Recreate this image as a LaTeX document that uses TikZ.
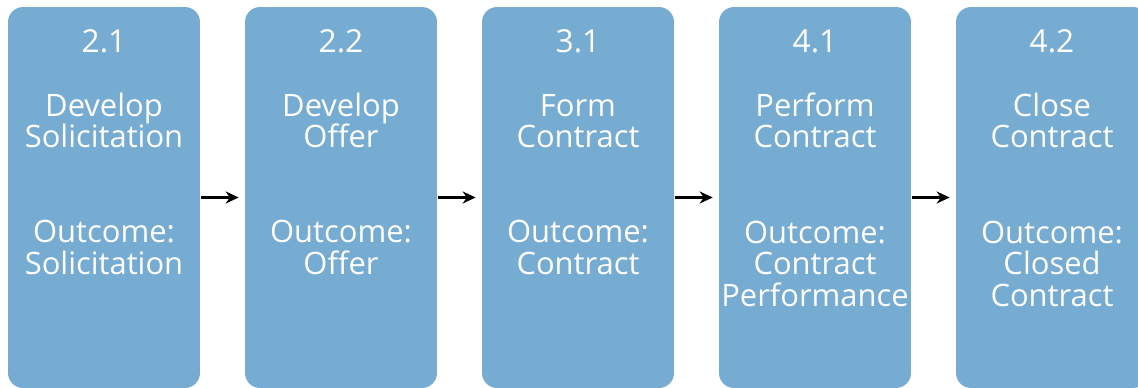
\documentclass[tikz,border=0pt]{standalone}
\usepackage{fontspec}
\setmainfont{Open Sans}
\usetikzlibrary{arrows.meta}
\definecolor{stageblue}{RGB}{118,171,210}
\tikzset{
  stage/.style={fill=stageblue, rounded corners=0.3cm, minimum width=3.84cm, minimum height=7.62cm},
  num/.style={text=white, anchor=base, font=\fontsize{18}{19}\selectfont},
  txt/.style={text=white, anchor=base, align=center, inner sep=0pt, font=\fontsize{17.6}{17.9}\selectfont},
  flow/.style={-{Stealth[length=0.26cm, width=0.24cm]}, line width=1.3pt, shorten <=0.02cm, shorten >=0.12cm}
}
\begin{document}
\begin{tikzpicture}[x=0.02cm, y=-0.02cm]
    \useasboundingbox (0,0) rectangle (1138,388);
    \clip (0,0) rectangle (1138,388);
    %Stages
    \node [stage] (s1) at (104,197.5) {};
    \node [stage] (s2) at (341,197.5) {};
    \node [stage] (s3) at (578,197.5) {};
    \node [stage] (s4) at (815,197.5) {};
    \node [stage] (s5) at (1052,197.5) {};
    %Numbers
    \node [num] (n1) at (104,53) {2.1};
    \node [num] (n2) at (341,53) {2.2};
    \node [num] (n3) at (578,53) {3.1};
    \node [num] (n4) at (815,53) {4.1};
    \node [num] (n5) at (1052,53) {4.2};
    %Titles (anchored at last line)
    \node [txt] (t1) at (104,148) {Develop\\Solicitation};
    \node [txt] (t2) at (341,148) {Develop\\Offer};
    \node [txt] (t3) at (578,148) {Form\\Contract};
    \node [txt] (t4) at (815,148) {Perform\\Contract};
    \node [txt] (t5) at (1052,148) {Close\\Contract};
    %Outcomes
    \node [txt] (o1) at (104,274) {Outcome:\\Solicitation};
    \node [txt] (o2) at (341,274) {Outcome:\\Offer};
    \node [txt] (o3) at (578,274) {Outcome:\\Contract};
    \node [txt] (o4) at (815,306) {Outcome:\\Contract\\Performance};
    \node [txt] (o5) at (1052,306) {Outcome:\\Closed\\Contract};
    %Flow
    \draw [flow] (s1) -- (s2);
    \draw [flow] (s2) -- (s3);
    \draw [flow] (s3) -- (s4);
    \draw [flow] (s4) -- (s5);
\end{tikzpicture}
\end{document}
